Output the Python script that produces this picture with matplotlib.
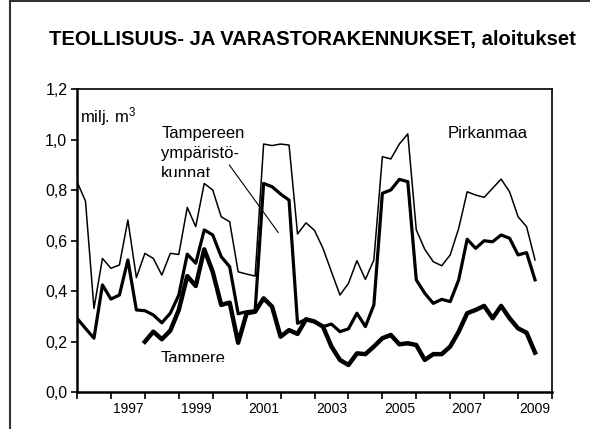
import numpy as np
import matplotlib
matplotlib.use('Agg')
import matplotlib.pyplot as plt
from matplotlib.lines import Line2D
from matplotlib.transforms import Bbox, TransformedBbox

plt.rcParams['font.family'] = ['Liberation Sans', 'DejaVu Sans']
plt.rcParams['mathtext.default'] = 'regular'

# neljännesvuodet 1996 Q1 - 2009 Q3
quarters = 1996 + np.arange(55) / 4

pirkanmaa = [0.833, 0.756, 0.331, 0.529, 0.490, 0.503, 0.681, 0.453, 0.549, 0.529,
             0.463, 0.549, 0.545, 0.731, 0.655, 0.826, 0.800, 0.694, 0.674, 0.476,
             0.467, 0.459, 0.982, 0.976, 0.982, 0.978, 0.626, 0.670, 0.640, 0.569,
             0.476, 0.384, 0.430, 0.520, 0.446, 0.523, 0.932, 0.923, 0.982, 1.022,
             0.642, 0.565, 0.516, 0.500, 0.543, 0.648, 0.793, 0.780, 0.771, 0.807,
             0.843, 0.793, 0.694, 0.655, 0.523]

ymparistokunnat = [0.292, 0.252, 0.213, 0.424, 0.368, 0.384, 0.523, 0.325, 0.322, 0.305,
                   0.274, 0.312, 0.384, 0.546, 0.510, 0.642, 0.622, 0.536, 0.496, 0.310,
                   0.318, 0.322, 0.826, 0.813, 0.784, 0.760, 0.272, 0.288, 0.279, 0.259,
                   0.269, 0.239, 0.250, 0.312, 0.259, 0.345, 0.787, 0.800, 0.842, 0.833,
                   0.444, 0.391, 0.351, 0.367, 0.358, 0.444, 0.605, 0.569, 0.599, 0.595,
                   0.622, 0.609, 0.543, 0.552, 0.444]

# Tampere alkaa 1998 Q1
tampere = [np.nan] * 8 + [0.199, 0.239, 0.209, 0.243, 0.325, 0.459, 0.420, 0.565, 0.476, 0.345,
                          0.354, 0.195, 0.312, 0.318, 0.371, 0.338, 0.219, 0.245, 0.230, 0.288,
                          0.279, 0.259, 0.180, 0.127, 0.107, 0.153, 0.150, 0.180, 0.213, 0.226,
                          0.189, 0.193, 0.186, 0.127, 0.150, 0.150, 0.180, 0.239, 0.312, 0.325,
                          0.341, 0.292, 0.341, 0.292, 0.252, 0.235, 0.156]

year_labels = ['1997', '1999', '2001', '2003', '2005', '2007', '2009']
y_ticks = [0.0, 0.2, 0.4, 0.6, 0.8, 1.0, 1.2]

fig = plt.figure(figsize=(5.9, 4.29), dpi=100)
ax = fig.add_axes([77/590, 1 - 392/429, (552 - 77)/590, (392 - 89)/429])

ax.plot(quarters, pirkanmaa, color='black', lw=1.1)
ax.plot(quarters, ymparistokunnat, color='black', lw=2.3)
ax.plot(quarters, tampere, color='black', lw=3.2)

ax.set_xlim(1996, 2010)
ax.set_ylim(0, 1.2)
ax.set_yticks(y_ticks)
ax.set_yticklabels([('%.1f' % v).replace('.', ',') for v in y_ticks])
ax.set_xticks(np.arange(1996, 2011))
ax.set_xticklabels([])
ax.set_xticks([int(s) + 0.5 for s in year_labels], minor=True)
ax.set_xticklabels(year_labels, minor=True)
ax.tick_params(axis='x', which='major', direction='out', length=5, width=1.2)
ax.tick_params(axis='x', which='minor', length=0, pad=7)
ax.tick_params(axis='y', direction='out', length=4, width=1.2, pad=3)
ax.tick_params(labelsize=11.5)
for side in ['left', 'bottom']:
    ax.spines[side].set_linewidth(1.8)
for side in ['top', 'right']:
    ax.spines[side].set_linewidth(1.2)

ax.text(1996.09, 1.089, 'milj. m$^3$', fontsize=12, va='center', ha='left')
t1 = ax.text(1998.48, 1.055, 'Tampereen\nympäristö-\nkunnat', fontsize=12,
             va='top', ha='left', linespacing=1.45, clip_on=True)
t1.set_clip_box(TransformedBbox(Bbox([[1996, 0.851], [2010, 1.2]]), ax.transData))
ax.text(2006.93, 1.024, 'Pirkanmaa', fontsize=12, va='center', ha='left')
t2 = ax.text(1998.47, 0.163, 'Tampere', fontsize=12, va='top', ha='left', clip_on=True)
t2.set_clip_box(TransformedBbox(Bbox([[1996, 0.118], [2010, 1.2]]), ax.transData))
ax.plot([2000.49, 2001.93], [0.899, 0.632], color='black', lw=0.8)

fig.text(0.5297, 1 - 40/429, 'TEOLLISUUS- JA VARASTORAKENNUKSET, aloitukset',
         fontsize=14.6, fontweight='bold', ha='center', va='center')

# kehys
fig.add_artist(Line2D([10/590, 10/590], [0, 1 - 1/429], color='#333333', lw=1.5))
fig.add_artist(Line2D([10/590, 1], [1 - 1/429, 1 - 1/429], color='#333333', lw=1.5))

fig.savefig('out.png', dpi=100)
